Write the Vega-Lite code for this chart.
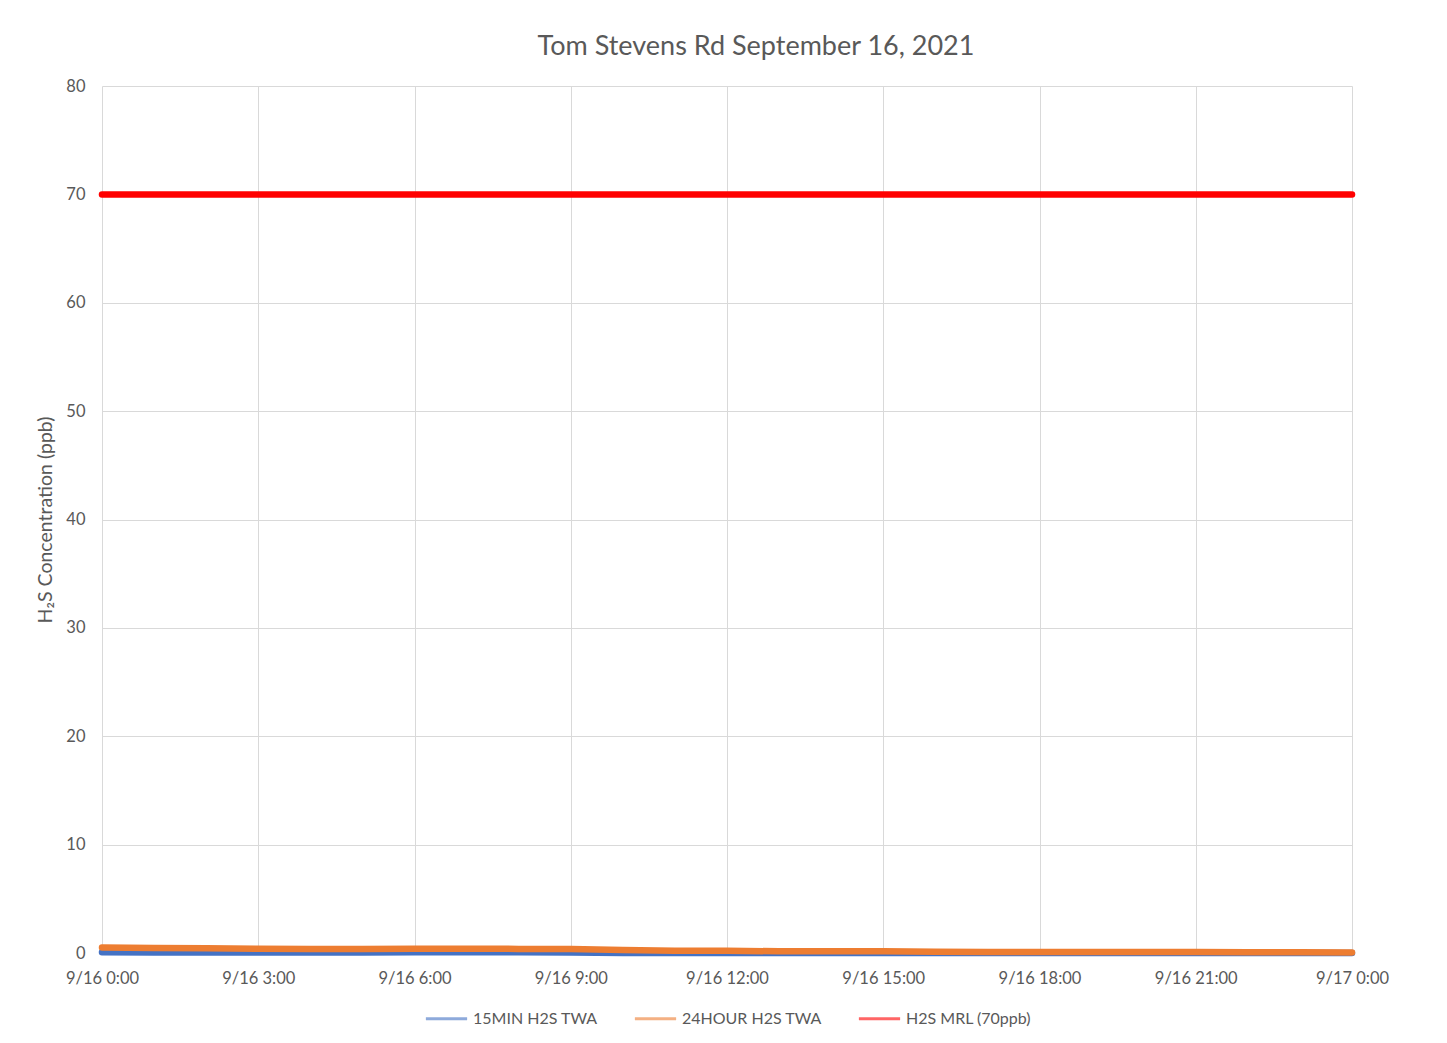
{
  "$schema": "https://vega.github.io/schema/vega-lite/v6.json",
  "width": 1250,
  "height": 867,
  "padding": {"left": 35, "top": 33, "right": 10, "bottom": 10},
  "background": "white",
  "config": {
    "font": "Lato",
    "view": {"stroke": null},
    "axis": {"labelColor": "#595959", "titleColor": "#595959", "gridColor": "#d9d9d9", "gridWidth": 1, "domain": false, "ticks": false}
  },
  "title": {"text": "Tom Stevens Rd September 16, 2021", "fontSize": 27, "fontWeight": "normal", "color": "#595959", "offset": 17, "dx": 29},
  "data": {"values": [
      {"t": "2021-09-16T00:00:00", "series": "15MIN H2S TWA", "v": 0.08},
      {"t": "2021-09-16T01:00:00", "series": "15MIN H2S TWA", "v": 0.05},
      {"t": "2021-09-16T02:00:00", "series": "15MIN H2S TWA", "v": 0.05},
      {"t": "2021-09-16T03:00:00", "series": "15MIN H2S TWA", "v": 0.05},
      {"t": "2021-09-16T04:00:00", "series": "15MIN H2S TWA", "v": 0.05},
      {"t": "2021-09-16T05:00:00", "series": "15MIN H2S TWA", "v": 0.05},
      {"t": "2021-09-16T06:00:00", "series": "15MIN H2S TWA", "v": 0.06},
      {"t": "2021-09-16T07:00:00", "series": "15MIN H2S TWA", "v": 0.08},
      {"t": "2021-09-16T08:00:00", "series": "15MIN H2S TWA", "v": 0.06},
      {"t": "2021-09-16T09:00:00", "series": "15MIN H2S TWA", "v": 0.05},
      {"t": "2021-09-16T10:00:00", "series": "15MIN H2S TWA", "v": 0.0},
      {"t": "2021-09-16T11:00:00", "series": "15MIN H2S TWA", "v": 0.0},
      {"t": "2021-09-16T12:00:00", "series": "15MIN H2S TWA", "v": 0.0},
      {"t": "2021-09-16T13:00:00", "series": "15MIN H2S TWA", "v": 0.0},
      {"t": "2021-09-16T14:00:00", "series": "15MIN H2S TWA", "v": 0.0},
      {"t": "2021-09-16T15:00:00", "series": "15MIN H2S TWA", "v": 0.0},
      {"t": "2021-09-16T16:00:00", "series": "15MIN H2S TWA", "v": 0.0},
      {"t": "2021-09-16T17:00:00", "series": "15MIN H2S TWA", "v": 0.0},
      {"t": "2021-09-16T18:00:00", "series": "15MIN H2S TWA", "v": 0.0},
      {"t": "2021-09-16T19:00:00", "series": "15MIN H2S TWA", "v": 0.0},
      {"t": "2021-09-16T20:00:00", "series": "15MIN H2S TWA", "v": 0.0},
      {"t": "2021-09-16T21:00:00", "series": "15MIN H2S TWA", "v": 0.0},
      {"t": "2021-09-16T22:00:00", "series": "15MIN H2S TWA", "v": 0.0},
      {"t": "2021-09-16T23:00:00", "series": "15MIN H2S TWA", "v": 0.0},
      {"t": "2021-09-17T00:00:00", "series": "15MIN H2S TWA", "v": 0.0},
      {"t": "2021-09-16T00:00:00", "series": "24HOUR H2S TWA", "v": 0.5},
      {"t": "2021-09-16T01:00:00", "series": "24HOUR H2S TWA", "v": 0.45},
      {"t": "2021-09-16T02:00:00", "series": "24HOUR H2S TWA", "v": 0.43},
      {"t": "2021-09-16T03:00:00", "series": "24HOUR H2S TWA", "v": 0.4},
      {"t": "2021-09-16T04:00:00", "series": "24HOUR H2S TWA", "v": 0.38},
      {"t": "2021-09-16T05:00:00", "series": "24HOUR H2S TWA", "v": 0.38},
      {"t": "2021-09-16T06:00:00", "series": "24HOUR H2S TWA", "v": 0.39},
      {"t": "2021-09-16T07:00:00", "series": "24HOUR H2S TWA", "v": 0.4},
      {"t": "2021-09-16T08:00:00", "series": "24HOUR H2S TWA", "v": 0.38},
      {"t": "2021-09-16T09:00:00", "series": "24HOUR H2S TWA", "v": 0.37},
      {"t": "2021-09-16T10:00:00", "series": "24HOUR H2S TWA", "v": 0.28},
      {"t": "2021-09-16T11:00:00", "series": "24HOUR H2S TWA", "v": 0.2},
      {"t": "2021-09-16T12:00:00", "series": "24HOUR H2S TWA", "v": 0.2},
      {"t": "2021-09-16T13:00:00", "series": "24HOUR H2S TWA", "v": 0.16},
      {"t": "2021-09-16T14:00:00", "series": "24HOUR H2S TWA", "v": 0.16},
      {"t": "2021-09-16T15:00:00", "series": "24HOUR H2S TWA", "v": 0.15},
      {"t": "2021-09-16T16:00:00", "series": "24HOUR H2S TWA", "v": 0.12},
      {"t": "2021-09-16T17:00:00", "series": "24HOUR H2S TWA", "v": 0.1},
      {"t": "2021-09-16T18:00:00", "series": "24HOUR H2S TWA", "v": 0.1},
      {"t": "2021-09-16T19:00:00", "series": "24HOUR H2S TWA", "v": 0.1},
      {"t": "2021-09-16T20:00:00", "series": "24HOUR H2S TWA", "v": 0.1},
      {"t": "2021-09-16T21:00:00", "series": "24HOUR H2S TWA", "v": 0.1},
      {"t": "2021-09-16T22:00:00", "series": "24HOUR H2S TWA", "v": 0.08},
      {"t": "2021-09-16T23:00:00", "series": "24HOUR H2S TWA", "v": 0.06},
      {"t": "2021-09-17T00:00:00", "series": "24HOUR H2S TWA", "v": 0.05},
      {"t": "2021-09-16T00:00:00", "series": "H2S MRL (70ppb)", "v": 70},
      {"t": "2021-09-16T01:00:00", "series": "H2S MRL (70ppb)", "v": 70},
      {"t": "2021-09-16T02:00:00", "series": "H2S MRL (70ppb)", "v": 70},
      {"t": "2021-09-16T03:00:00", "series": "H2S MRL (70ppb)", "v": 70},
      {"t": "2021-09-16T04:00:00", "series": "H2S MRL (70ppb)", "v": 70},
      {"t": "2021-09-16T05:00:00", "series": "H2S MRL (70ppb)", "v": 70},
      {"t": "2021-09-16T06:00:00", "series": "H2S MRL (70ppb)", "v": 70},
      {"t": "2021-09-16T07:00:00", "series": "H2S MRL (70ppb)", "v": 70},
      {"t": "2021-09-16T08:00:00", "series": "H2S MRL (70ppb)", "v": 70},
      {"t": "2021-09-16T09:00:00", "series": "H2S MRL (70ppb)", "v": 70},
      {"t": "2021-09-16T10:00:00", "series": "H2S MRL (70ppb)", "v": 70},
      {"t": "2021-09-16T11:00:00", "series": "H2S MRL (70ppb)", "v": 70},
      {"t": "2021-09-16T12:00:00", "series": "H2S MRL (70ppb)", "v": 70},
      {"t": "2021-09-16T13:00:00", "series": "H2S MRL (70ppb)", "v": 70},
      {"t": "2021-09-16T14:00:00", "series": "H2S MRL (70ppb)", "v": 70},
      {"t": "2021-09-16T15:00:00", "series": "H2S MRL (70ppb)", "v": 70},
      {"t": "2021-09-16T16:00:00", "series": "H2S MRL (70ppb)", "v": 70},
      {"t": "2021-09-16T17:00:00", "series": "H2S MRL (70ppb)", "v": 70},
      {"t": "2021-09-16T18:00:00", "series": "H2S MRL (70ppb)", "v": 70},
      {"t": "2021-09-16T19:00:00", "series": "H2S MRL (70ppb)", "v": 70},
      {"t": "2021-09-16T20:00:00", "series": "H2S MRL (70ppb)", "v": 70},
      {"t": "2021-09-16T21:00:00", "series": "H2S MRL (70ppb)", "v": 70},
      {"t": "2021-09-16T22:00:00", "series": "H2S MRL (70ppb)", "v": 70},
      {"t": "2021-09-16T23:00:00", "series": "H2S MRL (70ppb)", "v": 70},
      {"t": "2021-09-17T00:00:00", "series": "H2S MRL (70ppb)", "v": 70}
  ]},
  "encoding": {
    "x": {
      "field": "t", "type": "temporal",
      "axis": {"title": null, "format": "%-m/%-d %-H:%M", "tickCount": 8, "labelFontSize": 16.5, "labelPadding": 17, "labelFlush": false}
    },
    "y": {
      "field": "v", "type": "quantitative",
      "scale": {"domain": [0, 80]},
      "axis": {"title": "H₂S Concentration (ppb)", "titleFontSize": 19.5, "titleFontWeight": "normal", "titlePadding": 10, "labelFontSize": 16.5, "labelPadding": 17, "tickCount": 8}
    },
    "color": {
      "field": "series", "type": "nominal",
      "scale": {"domain": ["15MIN H2S TWA", "24HOUR H2S TWA", "H2S MRL (70ppb)"], "range": ["#4472c4", "#ed7d31", "#ff0000"]},
      "legend": {
        "title": null, "orient": "none", "direction": "horizontal", "legendX": 322, "legendY": 910,
        "labelFontSize": 16, "labelColor": "#595959", "labelOffset": 4, "columnPadding": 30,
        "symbolType": "stroke", "symbolSize": 1700, "symbolStrokeWidth": 3, "symbolOpacity": 0.6
      }
    }
  },
  "mark": {"type": "line", "strokeWidth": 6.5, "strokeCap": "round", "strokeJoin": "round"}
}
